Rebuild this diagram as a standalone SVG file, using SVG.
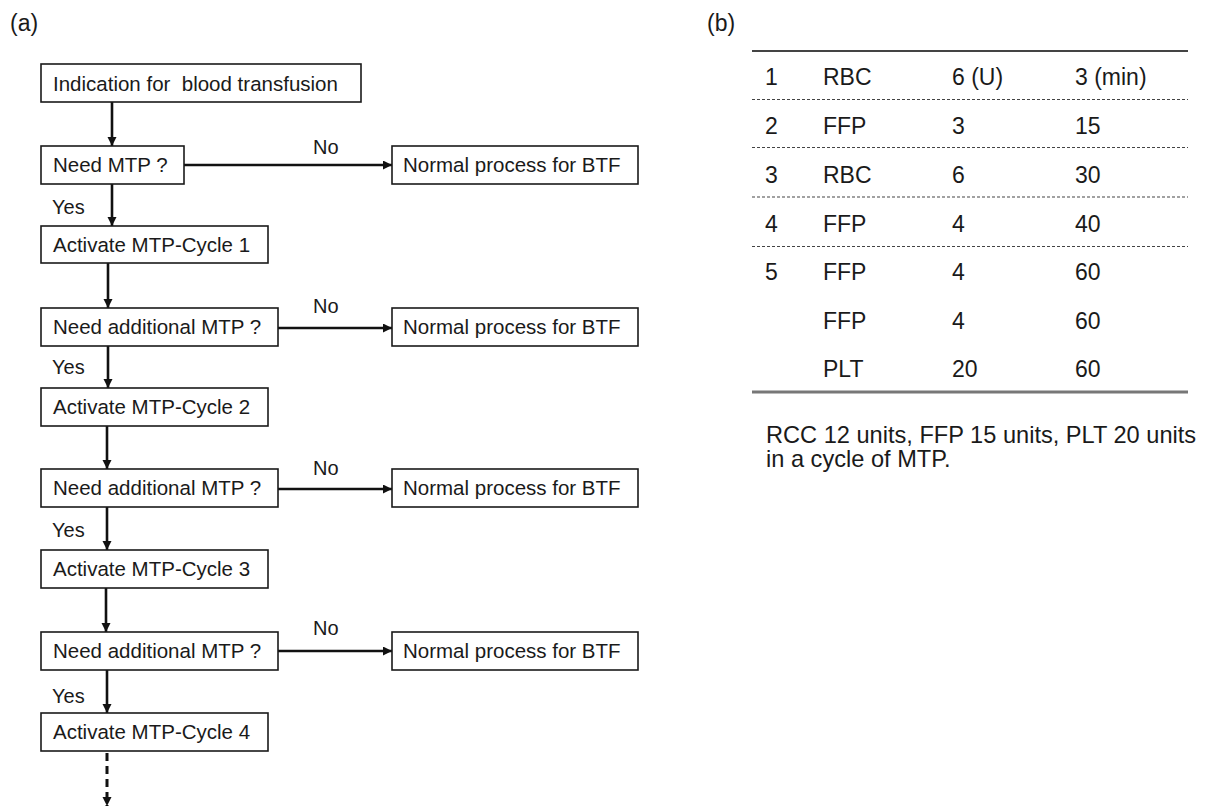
<svg xmlns="http://www.w3.org/2000/svg" width="1213" height="808" viewBox="0 0 1213 808">
<style>
text{font-family:"Liberation Sans",Arial,sans-serif;fill:#1a1a1a;white-space:pre}
.bt{font-size:20.5px}
.lb{font-size:20px}
.tb{font-size:23px}
.cap{font-size:23.6px}
.box{fill:#fff;stroke:#1a1a1a;stroke-width:1.6}
.con{stroke:#111;stroke-width:2.6;fill:none}
.dash{stroke-dasharray:8 5;stroke-width:3}
.rule{stroke:#444;stroke-width:1.2;stroke-dasharray:3 2}
</style>
<defs>
<marker id="ah" markerUnits="userSpaceOnUse" markerWidth="10" markerHeight="10" refX="9" refY="4.5" orient="auto">
<path d="M0,0 L9,4.5 L0,9 z" fill="#111"/>
</marker>
</defs>
<rect width="1213" height="808" fill="#fff"/>
<text x="10" y="31" font-size="23">(a)</text>
<text x="707" y="31" font-size="23">(b)</text>

<g id="connectors">
<line class="con" x1="112" y1="102" x2="112" y2="146" marker-end="url(#ah)"/>
<line class="con" x1="112" y1="184" x2="112" y2="226" marker-end="url(#ah)"/>
<line class="con" x1="108" y1="263" x2="108" y2="308" marker-end="url(#ah)"/>
<line class="con" x1="108" y1="346" x2="108" y2="388" marker-end="url(#ah)"/>
<line class="con" x1="107" y1="426" x2="107" y2="469" marker-end="url(#ah)"/>
<line class="con" x1="107" y1="507" x2="107" y2="550" marker-end="url(#ah)"/>
<line class="con" x1="106" y1="588" x2="106" y2="632" marker-end="url(#ah)"/>
<line class="con" x1="107" y1="670" x2="107" y2="713" marker-end="url(#ah)"/>
<line class="con dash" x1="107" y1="753" x2="107" y2="806" marker-end="url(#ah)"/>
<line class="con" x1="184" y1="165" x2="392" y2="165" marker-end="url(#ah)"/>
<line class="con" x1="278" y1="328" x2="392" y2="328" marker-end="url(#ah)"/>
<line class="con" x1="278" y1="489" x2="392" y2="489" marker-end="url(#ah)"/>
<line class="con" x1="278" y1="651" x2="392" y2="651" marker-end="url(#ah)"/>
<text class="lb" x="313" y="154">No</text>
<text class="lb" x="313" y="313">No</text>
<text class="lb" x="313" y="475">No</text>
<text class="lb" x="313" y="635">No</text>
<text class="lb" x="52" y="214">Yes</text>
<text class="lb" x="52" y="374">Yes</text>
<text class="lb" x="52" y="537">Yes</text>
<text class="lb" x="52" y="703">Yes</text>
</g>

<g id="n-indication"><rect class="box" x="41" y="64" width="320" height="38"/><text class="bt" x="53" y="91">Indication for  blood transfusion</text></g>
<g id="n-need-mtp"><rect class="box" x="41" y="146" width="143" height="38"/><text class="bt" x="53" y="172">Need MTP ?</text></g>
<g id="n-normal-1"><rect class="box" x="392" y="146" width="246" height="38"/><text class="bt" x="403" y="172">Normal process for BTF</text></g>
<g id="n-cycle-1"><rect class="box" x="41" y="226" width="227" height="37"/><text class="bt" x="53" y="252">Activate MTP-Cycle 1</text></g>
<g id="n-need-add-1"><rect class="box" x="41" y="308" width="237" height="38"/><text class="bt" x="53" y="334">Need additional MTP ?</text></g>
<g id="n-normal-2"><rect class="box" x="392" y="308" width="246" height="38"/><text class="bt" x="403" y="334">Normal process for BTF</text></g>
<g id="n-cycle-2"><rect class="box" x="41" y="388" width="227" height="38"/><text class="bt" x="53" y="414">Activate MTP-Cycle 2</text></g>
<g id="n-need-add-2"><rect class="box" x="41" y="469" width="237" height="38"/><text class="bt" x="53" y="495">Need additional MTP ?</text></g>
<g id="n-normal-3"><rect class="box" x="392" y="469" width="246" height="38"/><text class="bt" x="403" y="495">Normal process for BTF</text></g>
<g id="n-cycle-3"><rect class="box" x="41" y="550" width="227" height="38"/><text class="bt" x="53" y="576">Activate MTP-Cycle 3</text></g>
<g id="n-need-add-3"><rect class="box" x="41" y="632" width="237" height="38"/><text class="bt" x="53" y="658">Need additional MTP ?</text></g>
<g id="n-normal-4"><rect class="box" x="392" y="632" width="246" height="38"/><text class="bt" x="403" y="658">Normal process for BTF</text></g>
<g id="n-cycle-4"><rect class="box" x="41" y="713" width="227" height="38"/><text class="bt" x="53" y="739">Activate MTP-Cycle 4</text></g>

<g id="table">
<line x1="752" y1="51" x2="1188" y2="51" stroke="#444" stroke-width="2"/>
<line class="rule" x1="752" y1="99.5" x2="1188" y2="99.5"/>
<line class="rule" x1="752" y1="147.5" x2="1188" y2="147.5"/>
<line class="rule" x1="752" y1="197" x2="1188" y2="197"/>
<line class="rule" x1="752" y1="246.5" x2="1188" y2="246.5"/>
<line x1="752" y1="392" x2="1188" y2="392" stroke="#777" stroke-width="3"/>
<text class="tb" x="765" y="85">1</text><text class="tb" x="823" y="85">RBC</text><text class="tb" x="952" y="85">6 (U)</text><text class="tb" x="1075" y="85">3 (min)</text>
<text class="tb" x="765" y="133.5">2</text><text class="tb" x="823" y="133.5">FFP</text><text class="tb" x="952" y="133.5">3</text><text class="tb" x="1075" y="133.5">15</text>
<text class="tb" x="765" y="183">3</text><text class="tb" x="823" y="183">RBC</text><text class="tb" x="952" y="183">6</text><text class="tb" x="1075" y="183">30</text>
<text class="tb" x="765" y="232">4</text><text class="tb" x="823" y="232">FFP</text><text class="tb" x="952" y="232">4</text><text class="tb" x="1075" y="232">40</text>
<text class="tb" x="765" y="280">5</text><text class="tb" x="823" y="280">FFP</text><text class="tb" x="952" y="280">4</text><text class="tb" x="1075" y="280">60</text>
<text class="tb" x="823" y="328.5">FFP</text><text class="tb" x="952" y="328.5">4</text><text class="tb" x="1075" y="328.5">60</text>
<text class="tb" x="823" y="377">PLT</text><text class="tb" x="952" y="377">20</text><text class="tb" x="1075" y="377">60</text>
</g>
<g id="caption">
<text class="cap" x="766" y="443">RCC 12 units, FFP 15 units, PLT 20 units</text>
<text class="cap" x="766" y="467">in a cycle of MTP.</text>
</g>
</svg>
